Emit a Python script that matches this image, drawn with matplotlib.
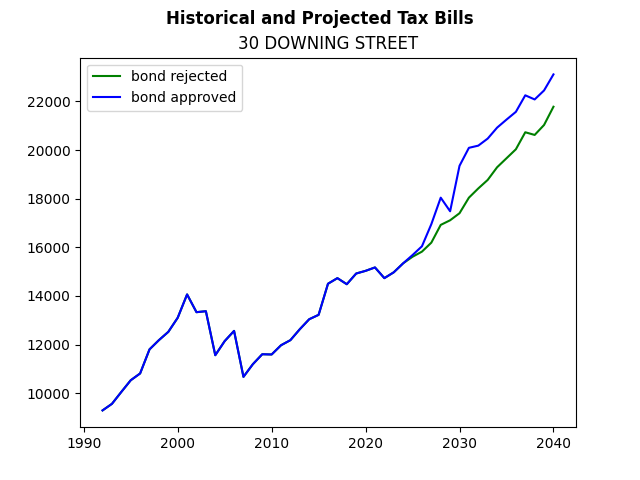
import matplotlib
matplotlib.use("Agg")
import matplotlib.pyplot as plt

years = list(range(1992, 2041))

# historical values, shared by both scenarios (1992-2024)
history = [9290, 9560, 10050, 10530, 10810, 11800, 12180, 12520, 13100, 14060,
           13330, 13370, 11560, 12140, 12560, 10670, 11190, 11600, 11590, 11970,
           12180, 12630, 13040, 13220, 14500, 14730, 14480, 14920, 15030, 15170,
           14730, 14970, 15340]

# projections 2025-2040
proj_rejected = [15610, 15820, 16190, 16920, 17110, 17400, 18040, 18420, 18770,
                 19290, 19660, 20030, 20730, 20620, 21030, 21780]
proj_approved = [15680, 16040, 16950, 18040, 17480, 19350, 20090, 20180, 20470,
                 20920, 21250, 21570, 22250, 22080, 22450, 23110]

bond_rejected = history + proj_rejected
bond_approved = history + proj_approved

fig, ax = plt.subplots(figsize=(6.4, 4.8), dpi=100)
ax.plot(years, bond_rejected, color="green", label="bond rejected")
ax.plot(years, bond_approved, color="blue", label="bond approved")
ax.set_title("30 DOWNING STREET")
fig.suptitle("Historical and Projected Tax Bills", fontweight="bold")
ax.legend(loc="upper left")

fig.savefig("out.png")
